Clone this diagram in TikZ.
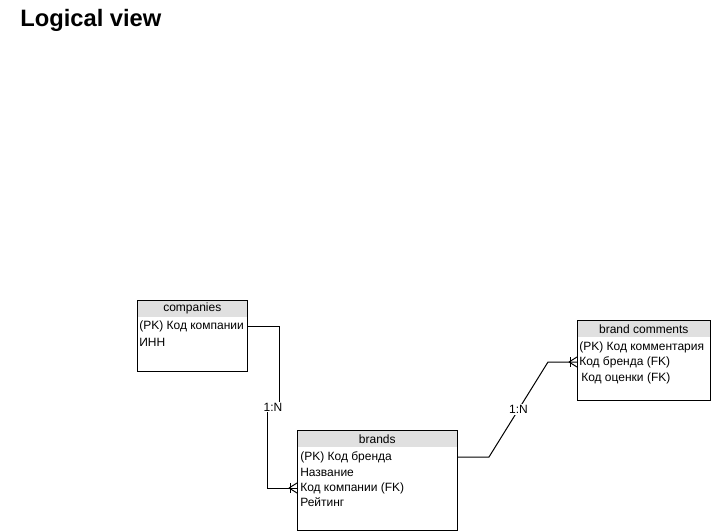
\documentclass[tikz,border=0pt]{standalone}
\usepackage{fontspec}
\setmainfont{Liberation Sans}
\usetikzlibrary{positioning,calc}
\definecolor{headgray}{RGB}{224,224,224}
\newcommand{\crowfoot}[1]{
  % many-side end, line comes in from the left
  \draw[conn] ($(#1)+(-8,0)$) -- ($(#1)+(0,-5)$);
  \draw[conn] ($(#1)+(-8,0)$) -- ($(#1)+(0,5)$);
  \draw[conn] ($(#1)+(-7,-5)$) -- ($(#1)+(-7,5)$);
}
\tikzset{x=.75pt}
\tikzset{y=-.75pt}
\tikzset{entity/.style 2 args={draw,rectangle,anchor=north west,inner sep=0pt,line width=.75pt,minimum width=#1*.75pt,minimum height=#2*.75pt}}
\tikzset{header/.style={fill=headgray,rectangle,anchor=north west,inner sep=0pt,minimum width=#1*.75pt,minimum height=17*.75pt,font=\fontsize{9}{11}\selectfont}}
\tikzset{row/.style={anchor=west,inner sep=0pt,font=\fontsize{9}{11}\selectfont}}
\tikzset{conn/.style={line width=.75pt}}
\tikzset{lbl/.style={fill=white,inner sep=1pt,font=\fontsize{9}{11}\selectfont}}

\begin{document}
\begin{tikzpicture}
  \useasboundingbox (0,0) rectangle (711,531);
  \draw (20,20) node[anchor=west,inner sep=0pt,font=\fontsize{17.8}{21}\selectfont\bfseries] (title) {Logical view};

  %% companies
  \draw (137,300) node[header=110] (chead) {companies};
  \draw (137,300) node[entity={110}{71}] (companies) {};
  \draw (139,326) node[row] (cpk) {(PK) Код компании};
  \draw (139,342) node[row] (cinn) {ИНН};

  %% brands
  \draw (297,430) node[header=160] (bhead) {brands};
  \draw (297,430) node[entity={160}{100}] (brands) {};
  \draw (300,457) node[row] (bpk) {(PK) Код бренда};
  \draw (300,472) node[row] (bname) {Название};
  \draw (300,488) node[row] (bfk) {Код компании (FK)};
  \draw (300,502) node[row] (brate) {Рейтинг};

  %% brand comments
  \draw (577,320) node[header=133] (mhead) {brand comments};
  \draw (577,320) node[entity={133}{80}] (comments) {};
  \draw (579,347) node[row] (mpk) {(PK) Код комментария};
  \draw (579,362) node[row] (mbfk) {Код бренда (FK)};
  \draw (581,378) node[row] (mmark) {Код оценки (FK)};

  %% relations
  \coordinate (cfoot) at (bfk -| brands.west);
  \coordinate (mfoot) at (mbfk -| comments.west);
  \draw[conn] (cpk -| companies.east) -| (279,407) -- node[lbl] {1:N} (267,407) |- (cfoot);
  \crowfoot{cfoot}
  \draw[conn] (bpk -| brands.east) -- ++(31,0) -- node[lbl] {1:N} ($(mfoot)+(-29,0)$) -- (mfoot);
  \crowfoot{mfoot}
\end{tikzpicture}
\end{document}
